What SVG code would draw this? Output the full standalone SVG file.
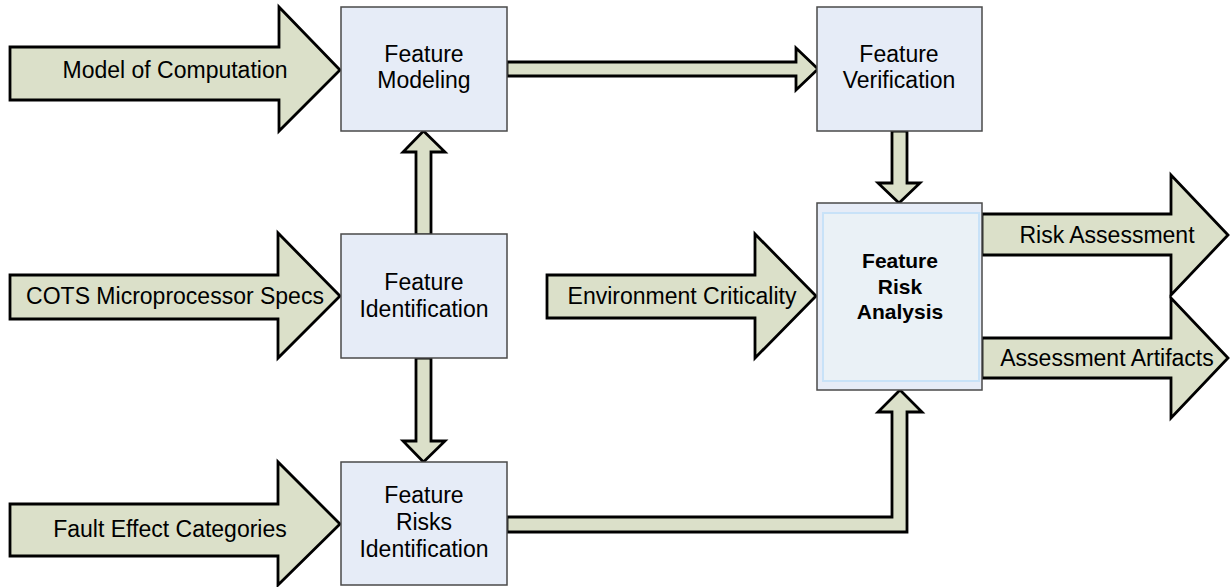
<svg xmlns="http://www.w3.org/2000/svg" width="1230" height="587" viewBox="0 0 1230 587">
<style>
.box{fill:#e6ecf7;stroke:#4a4a4a;stroke-width:1.5}
.arr{fill:#dbe0c9;stroke:#000;stroke-width:2.8;stroke-linejoin:miter}
.t{font-family:"Liberation Sans",Arial,sans-serif;font-size:23px;fill:#000;text-anchor:middle}
.b{font-weight:bold;font-size:21px}
</style>
<rect width="1230" height="587" fill="#fff"/>
<g id="connectors">
<path class="arr" d="M507,62 H796 V48 L818,69 L796,90 V76 H507 Z"/>
<path class="arr" d="M416,235 V152 H403 L423.5,131 L445,152 H431 V235 Z"/>
<path class="arr" d="M416,358 V441 H403 L423.5,462 L445,441 H431 V358 Z"/>
<path class="arr" d="M892,131 V183 H878 L899,203 L920,183 H907 V131 Z"/>
<path class="arr" d="M507,517 H892 V412 H878 L900,390 L922,412 H907 V532 H507 Z"/>
</g>
<g id="in-model">
<path class="arr" d="M10,47 H279 V7 L340,70 L279,131 V100 H10 Z"/>
<text class="t" x="175" y="78">Model of Computation</text>
</g>
<g id="in-cots">
<path class="arr" d="M10,275 H278 V233 L340,296 L278,358 V319 H10 Z"/>
<text class="t" x="175" y="304">COTS Microprocessor Specs</text>
</g>
<g id="in-fault">
<path class="arr" d="M10,504 H278 V462 L340,524 L278,585 V556 H10 Z"/>
<text class="t" x="170" y="537">Fault Effect Categories</text>
</g>
<g id="in-env">
<path class="arr" d="M547,275 H755 V234 L816,296 L755,358 V318 H547 Z"/>
<text class="t" x="682" y="304">Environment Criticality</text>
</g>
<g id="out-risk">
<path class="arr" d="M982,214 H1171 V175 L1228,235 L1171,295 V255 H982 Z"/>
<text class="t" x="1107" y="243">Risk Assessment</text>
</g>
<g id="out-artifacts">
<path class="arr" d="M982,338 H1171 V298 L1228,358 L1171,418 V378 H982 Z"/>
<text class="t" x="1107" y="366">Assessment Artifacts</text>
</g>
<g id="feature-modeling">
<rect class="box" x="341" y="7" width="166" height="124"/>
<text class="t" x="424" y="62">Feature</text>
<text class="t" x="424" y="88">Modeling</text>
</g>
<g id="feature-verification">
<rect class="box" x="817" y="7" width="165" height="124"/>
<text class="t" x="899" y="62">Feature</text>
<text class="t" x="899" y="88">Verification</text>
</g>
<g id="feature-identification">
<rect class="box" x="341" y="234" width="166" height="124"/>
<text class="t" x="424" y="290">Feature</text>
<text class="t" x="424" y="317">Identification</text>
</g>
<g id="feature-risks-identification">
<rect class="box" x="341" y="462" width="166" height="123"/>
<text class="t" x="424" y="503">Feature</text>
<text class="t" x="424" y="530">Risks</text>
<text class="t" x="424" y="557">Identification</text>
</g>
<g id="feature-risk-analysis">
<rect class="box" x="817" y="203" width="165" height="187"/>
<rect x="823" y="213" width="156" height="168" fill="#eaf1f6" stroke="#c8e2f8" stroke-width="2"/>
<text class="t b" x="900" y="268">Feature</text>
<text class="t b" x="900" y="294">Risk</text>
<text class="t b" x="900" y="319">Analysis</text>
</g>
</svg>
